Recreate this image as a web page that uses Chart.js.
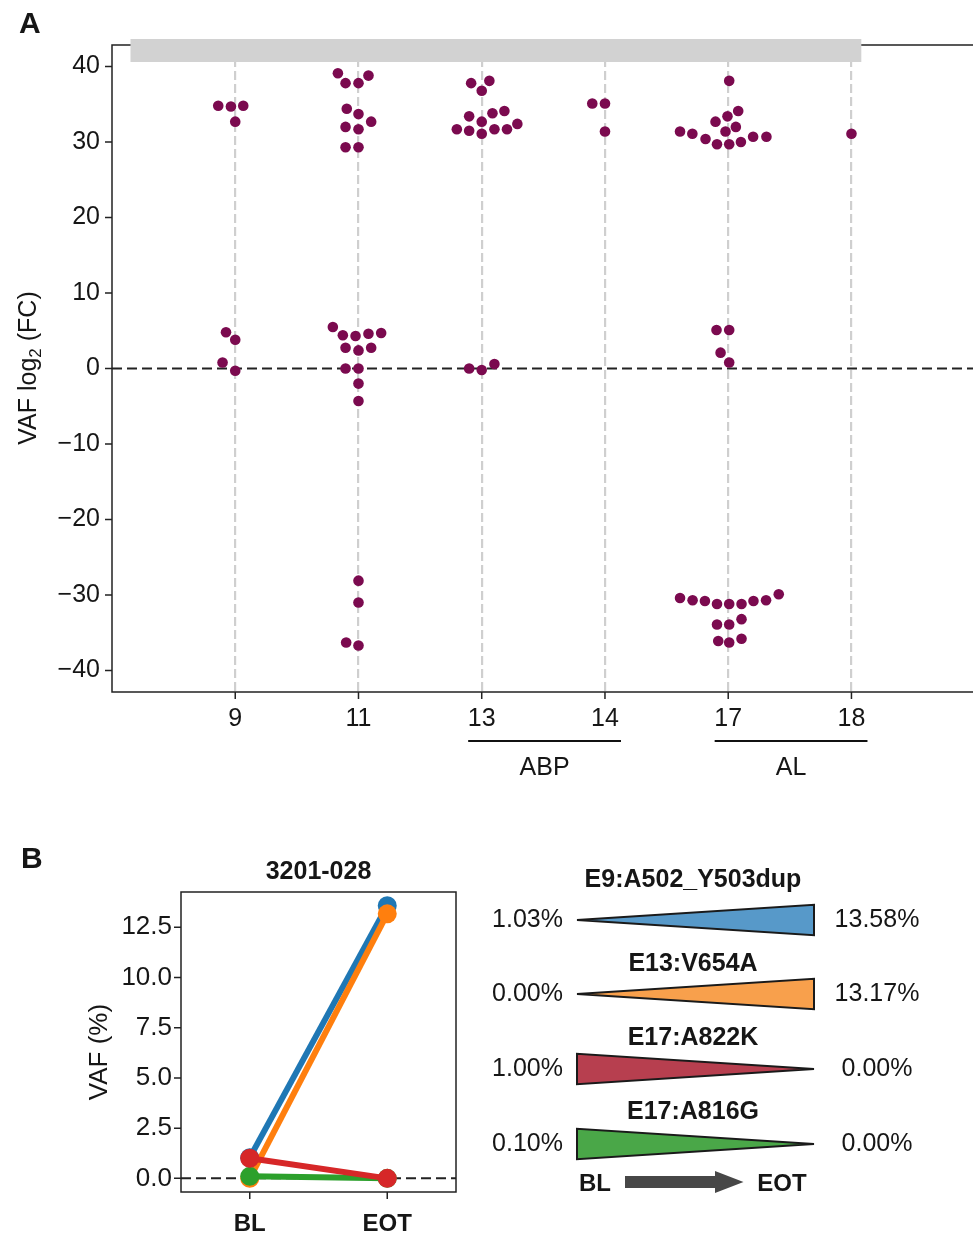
<!DOCTYPE html>
<html><head><meta charset="utf-8">
<script src="https://cdn.jsdelivr.net/npm/chart.js@4.4.1/dist/chart.umd.min.js"></script>
<style>
html,body{margin:0;padding:0;background:#fff;overflow:hidden;}
#wrap{position:relative;width:973px;height:1239px;overflow:hidden;background:#fff;}
#ca{position:absolute;left:0;top:0;}
#cb{position:absolute;left:0;top:830px;}
</style></head><body>
<div id="wrap"><canvas id="ca" width="980" height="800"></canvas><canvas id="cb" width="973" height="409"></canvas></div>
<script>
const FONT = '"Liberation Sans", Arial, Helvetica, sans-serif';
Chart.defaults.font.family = FONT;

// ---------------- Panel A data ----------------
const exonCategories = ['9', '11', '13', '14', '17', '18'];
const yTicksA = [-40, -30, -20, -10, 0, 10, 20, 30, 40];
const groupNames = ['ABP', 'AL'];
const groupFrom = [2, 4];   // category index
const groupTo = [3, 5];

// VAF log2(FC) per exon and swarm offsets (category units)
const vaf9  = [34.8, 34.7, 34.8, 32.7, 4.8, 3.8, 0.8, -0.3];
const jit9  = [-0.138, -0.035, 0.065, 0, -0.075, 0, -0.103, 0];
const vaf11 = [39.1, 38.8, 37.8, 37.8, 34.4, 33.7, 32.7, 32.0, 31.7, 29.3, 29.3, 5.5, 4.4, 4.3, 4.6, 4.7, 2.75, 2.4, 2.75, 0.0, 0.0, -2.0, -4.3, -28.1, -31.0, -36.3, -36.7];
const jit11 = [-0.167, 0.081, -0.105, 0, -0.095, 0, 0.103, -0.105, 0, -0.105, 0, -0.208, -0.127, -0.024, 0.081, 0.184, -0.105, 0, 0.103, -0.105, 0, 0, 0, 0, 0, -0.1, 0];
const vaf13 = [38.1, 37.8, 36.8, 34.1, 33.8, 33.4, 32.7, 32.4, 31.7, 31.7, 31.7, 31.5, 31.1, 0.6, 0.0, -0.2];
const jit13 = [0.062, -0.086, 0, 0.184, 0.087, -0.102, 0, 0.289, -0.202, 0.103, 0.205, -0.102, 0, 0.103, -0.102, 0];
const vaf14 = [35.1, 35.1, 31.4];
const jit14 = [-0.103, 0, 0];
const vaf17 = [38.1, 34.1, 33.4, 32.7, 32.0, 31.4, 31.4, 31.1, 30.4, 29.7, 29.7, 30.0, 30.7, 30.7, 5.1, 5.1, 2.1, 0.8, -29.9, -30.4, -30.7, -30.7, -30.8, -30.8, -31.2, -31.2, -31.2, -33.2, -33.9, -33.9, -35.8, -36.1, -36.3];
const jit17 = [0.008, 0.081, -0.006, -0.103, 0.062, -0.022, -0.391, -0.291, -0.184, -0.091, 0.008, 0.103, 0.202, 0.31, -0.095, 0.008, -0.062, 0.008, 0.41, -0.391, -0.289, 0.307, -0.189, 0.205, -0.091, 0.008, 0.108, 0.108, -0.091, 0.008, 0.108, -0.081, 0.008];
const vaf18 = [31.1];
const jit18 = [0];

// ---------------- Panel B data ----------------
const patientId = '3201-028';
const timepoints = ['BL', 'EOT'];
const mutations = ['E9:A502_Y503dup', 'E13:V654A', 'E17:A822K', 'E17:A816G'];
const vafBL  = [1.03, 0.00, 1.00, 0.10];
const vafEOT = [13.58, 13.17, 0.00, 0.00];
const yTicksB = [0, 2.5, 5, 7.5, 10, 12.5];

const lineColors  = ['#1f77b4', '#ff7f0e', '#d62728', '#2ca02c'];
const wedgeColors = ['#5799c9', '#f8a04c', '#b73f4f', '#4aa748'];
const drawOrder   = [3, 2, 0, 1]; // lower = drawn on top

const INK = '#161616';
const fmtMinus = v => (v < 0 ? '\u2212' + Math.abs(v) : String(v));

// ---------------- Panel A ----------------
const swarm = [[vaf9, jit9], [vaf11, jit11], [vaf13, jit13], [vaf14, jit14], [vaf17, jit17], [vaf18, jit18]];
const ptsA = [];
swarm.forEach(([vals, jit], ci) => vals.forEach((v, k) => ptsA.push({ x: ci + jit[k], y: v })));

function text(ctx, s, x, y, size, weight, align) {
  ctx.font = (weight || 'normal') + ' ' + size + 'px ' + FONT;
  ctx.textAlign = align || 'left';
  ctx.textBaseline = 'alphabetic';
  ctx.fillStyle = INK;
  ctx.fillText(s, x, y);
}

const panelAPlugin = {
  id: 'panelA',
  beforeDatasetsDraw(chart) {
    const { ctx, chartArea: a, scales: { y } } = chart;
    const y0 = y.getPixelForValue(0);
    ctx.save();
    ctx.strokeStyle = '#222'; ctx.lineWidth = 2; ctx.setLineDash([10, 5]);
    ctx.beginPath(); ctx.moveTo(a.left, y0); ctx.lineTo(a.right, y0); ctx.stroke();
    ctx.restore();
  },
  afterDraw(chart) {
    const { ctx, chartArea: a, scales: { x, y } } = chart;
    ctx.save();
    // spines
    ctx.strokeStyle = '#222'; ctx.lineWidth = 1.5; ctx.setLineDash([]);
    ctx.beginPath();
    ctx.moveTo(a.right, a.top); ctx.lineTo(a.left, a.top); ctx.lineTo(a.left, a.bottom); ctx.lineTo(a.right, a.bottom);
    ctx.stroke();
    // tick marks
    ctx.beginPath();
    yTicksA.forEach(v => { const p = y.getPixelForValue(v); ctx.moveTo(a.left - 7, p); ctx.lineTo(a.left, p); });
    exonCategories.forEach((c, i) => { const p = x.getPixelForValue(i); ctx.moveTo(p, a.bottom); ctx.lineTo(p, a.bottom + 7); });
    ctx.stroke();
    // grey band on top
    ctx.fillStyle = '#d2d2d2';
    const bx0 = x.getPixelForValue(-0.85), bx1 = x.getPixelForValue(5.08);
    ctx.fillRect(bx0, a.top - 6, bx1 - bx0, 23);
    // group brackets
    ctx.strokeStyle = '#111'; ctx.lineWidth = 2;
    groupNames.forEach((g, i) => {
      const p0 = x.getPixelForValue(groupFrom[i] - 0.11), p1 = x.getPixelForValue(groupTo[i] + 0.13);
      ctx.beginPath(); ctx.moveTo(p0, 741); ctx.lineTo(p1, 741); ctx.stroke();
      text(ctx, g, (p0 + p1) / 2, 775, 25, 'normal', 'center');
    });
    // y title with subscript
    ctx.translate(36, 368); ctx.rotate(-Math.PI / 2);
    ctx.font = '25px ' + FONT; const w1 = ctx.measureText('VAF log').width;
    ctx.font = '17px ' + FONT; const w2 = ctx.measureText('2').width;
    ctx.font = '25px ' + FONT; const w3 = ctx.measureText(' (FC)').width;
    const tot = w1 + w2 + w3; let sx = -tot / 2;
    text(ctx, 'VAF log', sx, 0, 25); sx += w1;
    text(ctx, '2', sx, 5, 17); sx += w2;
    text(ctx, ' (FC)', sx, 0, 25);
    ctx.restore();
    ctx.save();
    text(ctx, 'A', 19, 33, 30, 'bold');
    ctx.restore();
  }
};

new Chart(document.getElementById('ca'), {
  type: 'scatter',
  data: { datasets: [{ data: ptsA, backgroundColor: '#7b0a4f', borderWidth: 0, pointRadius: 5.3, pointHoverRadius: 5.3 }] },
  options: {
    responsive: false, animation: false, events: [],
    layout: { padding: { top: 45, right: 3, left: 0, bottom: 0 } },
    plugins: { legend: { display: false }, tooltip: { enabled: false } },
    scales: {
      x: {
        type: 'linear', min: -1, max: 6,
        afterBuildTicks: s => { s.ticks = exonCategories.map((_, i) => ({ value: i })); },
        afterFit: s => { s.height = 108; },
        ticks: { callback: (v, i) => exonCategories[i], font: { size: 25 }, color: INK, padding: 12, autoSkip: false, maxRotation: 0 },
        grid: { display: true, drawTicks: false, color: '#cfcfcf', lineWidth: 2.2 },
        border: { display: false, dash: [9, 4] }
      },
      y: {
        type: 'linear', min: -42.85, max: 42.85,
        afterBuildTicks: s => { s.ticks = yTicksA.map(v => ({ value: v })); },
        afterFit: s => { s.width = 112; },
        ticks: { callback: v => fmtMinus(v), font: { size: 25 }, color: INK, padding: 12 },
        grid: { display: false, drawTicks: false },
        border: { display: false }
      }
    }
  },
  plugins: [panelAPlugin]
});

// ---------------- Panel B ----------------
const OFF = 830;
const panelBPlugin = {
  id: 'panelB',
  beforeDatasetsDraw(chart) {
    const { ctx, chartArea: a, scales: { y } } = chart;
    const y0 = y.getPixelForValue(0);
    ctx.save();
    ctx.strokeStyle = '#222'; ctx.lineWidth = 2; ctx.setLineDash([10, 5]);
    ctx.beginPath(); ctx.moveTo(a.left, y0); ctx.lineTo(a.right, y0); ctx.stroke();
    ctx.restore();
  },
  afterDraw(chart) {
    const { ctx, chartArea: a, scales: { x, y } } = chart;
    ctx.save();
    ctx.strokeStyle = '#222'; ctx.lineWidth = 1.5; ctx.setLineDash([]);
    ctx.strokeRect(a.left, a.top, a.right - a.left, a.bottom - a.top);
    ctx.beginPath();
    yTicksB.forEach(v => { const p = y.getPixelForValue(v); ctx.moveTo(a.left - 7, p); ctx.lineTo(a.left, p); });
    timepoints.forEach((t, i) => { const p = x.getPixelForValue(i); ctx.moveTo(p, a.bottom); ctx.lineTo(p, a.bottom + 7); });
    ctx.stroke();
    // title and labels
    text(ctx, patientId, (a.left + a.right) / 2, 879 - OFF, 25, 'bold', 'center');
    text(ctx, 'B', 21, 868 - OFF, 30, 'bold');
    ctx.save();
    ctx.translate(107, 1052 - OFF); ctx.rotate(-Math.PI / 2);
    text(ctx, 'VAF (%)', 0, 0, 26, 'normal', 'center');
    ctx.restore();
    // wedges
    const rowY = [920, 994, 1069, 1144];
    const titleY = [878, 962, 1036, 1110];
    const xl = 577, xr = 814, hh = 15.2;
    mutations.forEach((m, i) => {
      const cy = rowY[i] - OFF;
      ctx.beginPath();
      if (vafEOT[i] >= vafBL[i]) {
        ctx.moveTo(xl, cy); ctx.lineTo(xr, cy - hh); ctx.lineTo(xr, cy + hh);
      } else {
        ctx.moveTo(xl, cy - hh); ctx.lineTo(xl, cy + hh); ctx.lineTo(xr, cy);
      }
      ctx.closePath();
      ctx.fillStyle = wedgeColors[i]; ctx.fill();
      ctx.strokeStyle = '#1a1a1a'; ctx.lineWidth = 2; ctx.lineJoin = 'miter'; ctx.stroke();
      text(ctx, m, 693, titleY[i] - OFF + 9, 25, 'bold', 'center');
      text(ctx, vafBL[i].toFixed(2) + '%', 563, cy - 2 + 9, 25, 'normal', 'right');
      text(ctx, vafEOT[i].toFixed(2) + '%', 877, cy - 2 + 9, 25, 'normal', 'center');
    });
    // BL -> EOT arrow
    const ay = 1182 - OFF;
    text(ctx, timepoints[0], 595, ay + 8.6, 24, 'bold', 'center');
    text(ctx, timepoints[1], 782, ay + 8.6, 24, 'bold', 'center');
    ctx.fillStyle = '#474747';
    ctx.beginPath();
    ctx.moveTo(625, ay - 6); ctx.lineTo(715, ay - 6); ctx.lineTo(715, ay - 11); ctx.lineTo(743.5, ay);
    ctx.lineTo(715, ay + 11); ctx.lineTo(715, ay + 6); ctx.lineTo(625, ay + 6); ctx.closePath();
    ctx.fill();
    ctx.restore();
  }
};

const dsB = mutations.map((m, i) => ({
  label: m,
  data: [{ x: 0, y: vafBL[i] }, { x: 1, y: vafEOT[i] }],
  borderColor: lineColors[i], backgroundColor: lineColors[i],
  pointBackgroundColor: lineColors[i], pointBorderWidth: 0,
  borderWidth: 6, pointRadius: 9.5, pointHoverRadius: 9.5,
  order: drawOrder[i], clip: false
}));

new Chart(document.getElementById('cb'), {
  type: 'line',
  data: { datasets: dsB },
  options: {
    responsive: false, animation: false, events: [],
    layout: { padding: { top: 62, right: 517, left: 0, bottom: 0 } },
    plugins: { legend: { display: false }, tooltip: { enabled: false } },
    scales: {
      x: {
        type: 'linear', min: -0.5, max: 1.5,
        afterBuildTicks: s => { s.ticks = timepoints.map((_, i) => ({ value: i })); },
        afterFit: s => { s.height = 47; },
        ticks: { callback: (v, i) => timepoints[i], font: { size: 24, weight: 'bold' }, color: INK, padding: 18, autoSkip: false, maxRotation: 0 },
        grid: { display: false, drawTicks: false },
        border: { display: false }
      },
      y: {
        type: 'linear', min: -0.679, max: 14.259,
        afterBuildTicks: s => { s.ticks = yTicksB.map(v => ({ value: v })); },
        afterFit: s => { s.width = 181; },
        ticks: { callback: v => v.toFixed(1), font: { size: 26 }, color: INK, padding: 9 },
        grid: { display: false, drawTicks: false },
        border: { display: false }
      }
    }
  },
  plugins: [panelBPlugin]
});
</script>
</body></html>
